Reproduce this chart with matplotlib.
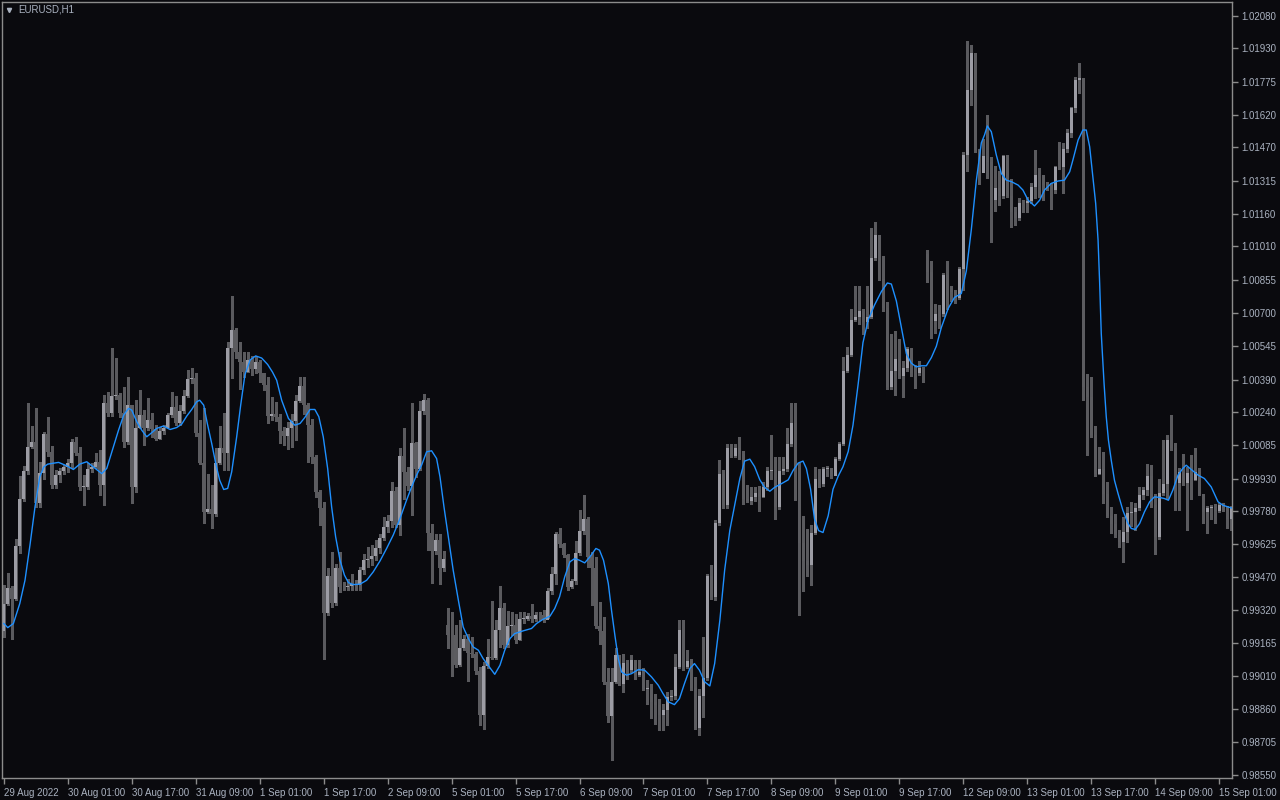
import numpy as np
import matplotlib.pyplot as plt
from matplotlib.lines import Line2D

# EURUSD H1 candles, 29 Aug 2022 09:00 onwards (bar index = hour step)
first_open = 0.99222
closes = [
    0.99349, 0.99419, 0.99372, 0.99616, 0.99834, 0.99964, 1.00077, 1.00098, 0.99817, 0.99958,
    1.00136, 1.00054, 0.99899, 0.99946, 0.99964, 0.99984, 1.00000, 1.00099, 1.00050, 0.99892,
    0.99892, 0.99974, 0.99984, 1.00006, 0.99902, 1.00282, 1.00236, 1.00313, 1.00318, 1.00233,
    1.00101, 1.00271, 0.99892, 1.00167, 1.00223, 1.00163, 1.00201, 1.00158, 1.00115, 1.00152,
    1.00163, 1.00225, 1.00264, 1.00189, 1.00245, 1.00313, 1.00392, 1.00395, 1.00140, 1.00000,
    0.99775, 0.99789, 0.99766, 1.00003, 1.00073, 1.00047, 1.00538, 1.00620, 1.00519, 1.00473,
    1.00426, 1.00481, 1.00440, 1.00470, 1.00420, 1.00364, 1.00220, 1.00232, 1.00214, 1.00152,
    1.00127, 1.00163, 1.00198, 1.00291, 1.00359, 1.00271, 1.00178, 1.00028, 0.99868, 0.99791,
    0.99306, 0.99476, 0.99352, 0.99516, 0.99426, 0.99428, 0.99430, 0.99439, 0.99434, 0.99504,
    0.99550, 0.99555, 0.99569, 0.99606, 0.99653, 0.99705, 0.99733, 0.99873, 0.99713, 1.00034,
    0.99961, 0.99894, 1.00096, 0.99972, 1.00245, 1.00294, 0.99678, 0.99594, 0.99643, 0.99515,
    0.99558, 0.99202, 0.99202, 0.99062, 0.99140, 0.99182, 0.99120, 0.99113, 0.99036, 0.98833,
    0.99058, 0.99101, 0.99098, 0.99225, 0.99326, 0.99155, 0.99243, 0.99250, 0.99178, 0.99279,
    0.99279, 0.99290, 0.99275, 0.99295, 0.99295, 0.99271, 0.99406, 0.99488, 0.99671, 0.99625,
    0.99573, 0.99426, 0.99453, 0.99585, 0.99687, 0.99744, 0.99566, 0.99512, 0.99243, 0.99222,
    0.98985, 0.98825, 0.98985, 0.99109, 0.98974, 0.99073, 0.99039, 0.99085, 0.99016, 0.99031,
    0.98954, 0.98954, 0.98892, 0.98876, 0.98830, 0.98853, 0.98915, 0.98918, 0.99055, 0.99225,
    0.99055, 0.99082, 0.98958, 0.98772, 0.98918, 0.99005, 0.99476, 0.99380, 0.99724, 0.99953,
    0.99806, 1.00074, 1.00034, 1.00070, 1.00046, 0.99836, 0.99827, 0.99845, 0.99862, 0.99845,
    0.99889, 0.99964, 0.99971, 0.99796, 0.99967, 0.99976, 1.00090, 1.00186, 0.99981, 0.99631,
    0.99547, 0.99526, 0.99675, 0.99929, 0.99906, 0.99976, 0.99981, 0.99941, 1.00023, 1.00090,
    1.00431, 1.00506, 1.00667, 1.00681, 1.00711, 1.00659, 1.00681, 1.00956, 1.01061, 1.00856,
    1.00723, 1.00356, 1.00431, 1.00484, 1.00405, 1.00443, 1.00531, 1.00419, 1.00419, 1.00443,
    1.00443, 1.00891, 1.00664, 1.00694, 1.00694, 1.00877, 1.00807, 1.00799, 1.00769, 1.00904,
    1.01434, 1.01738, 1.01906, 1.01458, 1.01350, 1.01429, 1.01403, 1.01224, 1.01279, 1.01243,
    1.01429, 1.01243, 1.01170, 1.01139, 1.01209, 1.01212, 1.01221, 1.01283, 1.01341, 1.01339,
    1.01294, 1.01290, 1.01271, 1.01376, 1.01379, 1.01460, 1.01534, 1.01651, 1.01782, 1.01790,
    1.00356, 1.00310, 1.00132, 0.99950, 0.99972, 0.99860, 0.99755, 0.99718, 0.99667, 0.99636,
    0.99682, 0.99770, 0.99775, 0.99791, 0.99853, 0.99876, 0.99941, 0.99806, 0.99656, 0.99863,
    0.99904, 1.00108, 1.00070, 0.99910, 0.99961, 0.99907, 0.99956, 0.99922, 0.99961, 0.99860,
    0.99775, 0.99791, 0.99798, 0.99780, 0.99806, 0.99791, 0.99744, 0.99795,
]
highs = [
    0.99434, 0.99492, 0.99430, 0.99651, 0.99941, 0.99988, 1.00279, 1.00174, 1.00260, 1.00008,
    1.00147, 1.00217, 1.00081, 0.99969, 0.99980, 0.99992, 1.00023, 1.00112, 1.00124, 1.00077,
    0.99946, 1.00000, 1.00000, 1.00050, 1.00062, 1.00318, 1.00333, 1.00535, 1.00488, 1.00326,
    1.00356, 1.00400, 1.00271, 1.00294, 1.00341, 1.00248, 1.00302, 1.00233, 1.00178, 1.00170,
    1.00178, 1.00233, 1.00333, 1.00313, 1.00271, 1.00341, 1.00434, 1.00446, 1.00419, 1.00202,
    1.00256, 0.99953, 0.99899, 1.00070, 1.00174, 1.00233, 1.00566, 1.00778, 1.00628, 1.00566,
    1.00519, 1.00519, 1.00500, 1.00500, 1.00480, 1.00420, 1.00400, 1.00310, 1.00287, 1.00230,
    1.00170, 1.00194, 1.00232, 1.00318, 1.00400, 1.00400, 1.00279, 1.00209, 1.00039, 0.99876,
    0.99822, 0.99512, 0.99589, 0.99535, 0.99589, 0.99450, 0.99465, 0.99485, 0.99460, 0.99519,
    0.99578, 0.99612, 0.99620, 0.99643, 0.99674, 0.99752, 0.99760, 0.99915, 0.99891, 1.00070,
    1.00163, 0.99984, 1.00282, 1.00101, 1.00291, 1.00325, 1.00302, 0.99718, 0.99674, 0.99671,
    0.99594, 0.99330, 0.99310, 0.99248, 0.99274, 0.99202, 0.99209, 0.99194, 0.99124, 0.99054,
    0.99078, 0.99186, 0.99361, 0.99271, 0.99430, 0.99352, 0.99315, 0.99310, 0.99302, 0.99310,
    0.99310, 0.99305, 0.99346, 0.99310, 0.99310, 0.99321, 0.99419, 0.99519, 0.99682, 0.99698,
    0.99630, 0.99581, 0.99461, 0.99640, 0.99786, 0.99853, 0.99752, 0.99590, 0.99566, 0.99357,
    0.99287, 0.99047, 0.99047, 0.99140, 0.99098, 0.99116, 0.99085, 0.99110, 0.99085, 0.99085,
    0.99047, 0.98993, 0.98977, 0.98930, 0.98907, 0.98884, 0.98938, 0.98946, 0.99116, 0.99271,
    0.99271, 0.99132, 0.99089, 0.99009, 0.98950, 0.99194, 0.99485, 0.99527, 0.99739, 1.00018,
    0.99969, 1.00090, 1.00090, 1.00090, 1.00124, 1.00060, 0.99901, 0.99889, 0.99889, 0.99897,
    0.99915, 0.99985, 1.00134, 1.00029, 1.00029, 1.00029, 1.00163, 1.00282, 1.00282, 1.00002,
    0.99754, 0.99696, 0.99714, 0.99985, 0.99976, 0.99985, 0.99990, 0.99960, 1.00029, 1.00099,
    1.00496, 1.00541, 1.00716, 1.00825, 1.00825, 1.00716, 1.00825, 1.01096, 1.01122, 1.01061,
    1.00965, 1.00751, 1.00601, 1.00615, 1.00580, 1.00475, 1.00541, 1.00536, 1.00460, 1.00478,
    1.00450, 1.00991, 1.00939, 1.00741, 1.00738, 1.00886, 1.00939, 1.00825, 1.00807, 1.00912,
    1.01446, 1.01966, 1.01945, 1.01906, 1.01464, 1.01507, 1.01620, 1.01426, 1.01382, 1.01361,
    1.01434, 1.01434, 1.01320, 1.01193, 1.01232, 1.01224, 1.01240, 1.01302, 1.01457, 1.01372,
    1.01341, 1.01310, 1.01302, 1.01382, 1.01496, 1.01488, 1.01553, 1.01659, 1.01798, 1.01860,
    1.01767, 1.00418, 1.00403, 1.00173, 1.00077, 1.00054, 0.99915, 0.99798, 0.99767, 0.99690,
    0.99752, 0.99798, 0.99822, 0.99814, 0.99891, 0.99891, 0.99997, 0.99992, 0.99860, 0.99930,
    1.00108, 1.00132, 1.00225, 1.00093, 0.99977, 1.00043, 0.99985, 1.00039, 1.00070, 0.99977,
    0.99860, 0.99802, 0.99806, 0.99810, 0.99817, 0.99814, 0.99802, 0.99802,
]
lows = [
    0.99194, 0.99341, 0.99186, 0.99364, 0.99585, 0.99826, 0.99953, 1.00070, 0.99799, 0.99799,
    0.99927, 1.00036, 0.99884, 0.99888, 0.99915, 0.99950, 0.99961, 0.99977, 1.00039, 0.99879,
    0.99806, 0.99882, 0.99961, 0.99977, 0.99853, 0.99806, 1.00220, 1.00222, 1.00298, 1.00217,
    1.00077, 1.00090, 0.99814, 0.99868, 1.00163, 1.00085, 1.00155, 1.00124, 1.00108, 1.00112,
    1.00136, 1.00170, 1.00217, 1.00178, 1.00178, 1.00236, 1.00307, 1.00375, 1.00130, 0.99997,
    0.99724, 0.99771, 0.99702, 0.99755, 0.99997, 0.99969, 0.99969, 1.00395, 1.00488, 1.00344,
    1.00403, 1.00426, 1.00410, 1.00420, 1.00380, 1.00341, 1.00186, 1.00201, 1.00198, 1.00093,
    1.00085, 1.00065, 1.00077, 1.00111, 1.00287, 1.00232, 1.00008, 1.00000, 0.99845, 0.99713,
    0.99093, 0.99295, 0.99333, 0.99341, 0.99403, 0.99411, 0.99411, 0.99414, 0.99411, 0.99414,
    0.99488, 0.99519, 0.99527, 0.99550, 0.99584, 0.99643, 0.99681, 0.99705, 0.99705, 0.99667,
    0.99837, 0.99876, 0.99760, 0.99938, 0.99969, 1.00232, 0.99600, 0.99445, 0.99581, 0.99439,
    0.99501, 0.99140, 0.99011, 0.99054, 0.99058, 0.99135, 0.98989, 0.99101, 0.99023, 0.98783,
    0.98768, 0.99051, 0.99090, 0.99093, 0.99147, 0.99140, 0.99147, 0.99201, 0.99166, 0.99178,
    0.99259, 0.99271, 0.99264, 0.99268, 0.99271, 0.99264, 0.99284, 0.99395, 0.99439, 0.99612,
    0.99566, 0.99411, 0.99419, 0.99442, 0.99574, 0.99674, 0.99519, 0.99341, 0.99233, 0.99163,
    0.98974, 0.98799, 0.98620, 0.98980, 0.98969, 0.98938, 0.99000, 0.99030, 0.99000, 0.99010,
    0.98946, 0.98884, 0.98819, 0.98791, 0.98760, 0.98760, 0.98783, 0.98900, 0.98907, 0.99047,
    0.99039, 0.99047, 0.98946, 0.98768, 0.98737, 0.98822, 0.98992, 0.99372, 0.99367, 0.99713,
    0.99795, 0.99795, 1.00028, 1.00030, 1.00020, 0.99810, 0.99819, 0.99813, 0.99827, 0.99778,
    0.99842, 0.99876, 0.99929, 0.99743, 0.99789, 0.99950, 0.99964, 1.00081, 0.99831, 0.99294,
    0.99407, 0.99477, 0.99434, 0.99670, 0.99889, 0.99897, 0.99941, 0.99932, 0.99950, 1.00016,
    1.00086, 1.00426, 1.00501, 1.00664, 1.00650, 1.00601, 1.00632, 1.00676, 1.00947, 1.00851,
    1.00711, 1.00344, 1.00344, 1.00317, 1.00396, 1.00309, 1.00431, 1.00408, 1.00352, 1.00410,
    1.00379, 1.00842, 1.00583, 1.00606, 1.00632, 1.00685, 1.00720, 1.00755, 1.00746, 1.00764,
    1.00807, 1.01359, 1.01665, 1.01446, 1.01297, 1.01359, 1.01325, 1.01031, 1.01175, 1.01201,
    1.01232, 1.01237, 1.01097, 1.01108, 1.01131, 1.01170, 1.01170, 1.01212, 1.01232, 1.01240,
    1.01224, 1.01271, 1.01181, 1.01259, 1.01370, 1.01255, 1.01449, 1.01519, 1.01635, 1.01724,
    1.00294, 1.00039, 1.00124, 0.99941, 0.99950, 0.99814, 0.99752, 0.99678, 0.99656, 0.99612,
    0.99543, 0.99636, 0.99709, 0.99690, 0.99783, 0.99837, 0.99853, 0.99798, 0.99581, 0.99651,
    0.99853, 0.99837, 1.00062, 0.99783, 0.99783, 0.99899, 0.99690, 0.99837, 0.99922, 0.99853,
    0.99721, 0.99678, 0.99744, 0.99721, 0.99775, 0.99780, 0.99698, 0.99690,
]
# opening gaps after the weekends
gap_opens = {111: 0.99248, 231: 1.00974}

# smoothed moving average, read along the bar axis
ma_x = [
    0, 1, 2.4, 4, 5.3, 6.6, 7.8, 9, 10, 11, 13.7, 15.75, 17.4, 19, 20.75, 22.4, 24.5, 25.75,
    27.4, 28.7, 30, 31.2, 32, 33.25, 34.5, 35.75, 37, 38.25, 39.9, 41.6, 43.25, 44.5, 45.75,
    47, 48.25, 49, 50, 50.9, 52, 53.1, 54, 55, 56, 57, 58.25, 59.25, 60.3, 61.6, 63, 64.5,
    66, 67.2, 68.25, 69.5, 71.2, 72.8, 74.1, 75.3, 76.6, 77.8, 78.8, 79.9, 81, 82, 83, 84.1,
    85.2, 86.2, 87.4, 89.1, 90.75, 92.4, 94.1, 95.75, 97.4, 99.1, 100.75, 102, 103.25, 104.5,
    105.75, 107, 108.25, 109.1, 110.1, 111.2, 112.4, 113.7, 114.9, 116.2, 117.4, 118.7, 119.9,
    121.6, 122.8, 124.1, 125.3, 126.6, 127.75, 129.9, 132, 133.25, 134.9, 136.6, 137.8, 139,
    140.3, 141.6, 142.8, 144, 145.3, 146.6, 148.1, 149, 150, 151.2, 152, 152.9, 153.7, 154.5,
    155.75, 157, 158.7, 160.3, 162, 163.7, 164.9, 166.2, 167.75, 169, 170.25, 171.6, 172.75,
    174, 175.3, 176.6, 177.8, 179.1, 180.3, 181.6, 182.8, 184.1, 185.3, 186.6, 187.8, 189.1,
    190.3, 191.6, 192.8, 194.5, 196.2, 197.4, 198.7, 199.9, 200.75, 201.8, 202.8, 203.8, 204.9,
    206.2, 207.4, 208.7, 209.9, 211.2, 212.4, 213.7, 214.9, 216.2, 217.8, 219.5, 221, 222,
    223.25, 224.5, 225.75, 227, 228.25, 229.5, 230.75, 232, 233.25, 234.5, 236.2, 237.8, 239.5,
    240.75, 242, 243.25, 244.5, 245.3, 246, 247, 248.25, 249.5, 250.75, 252, 253.7, 254.9,
    256.2, 257.8, 259.1, 260.3, 262, 263.7, 265.3, 266.6, 267.4, 268.7, 269.9, 270.75, 271.6,
    272.4, 273.1, 273.7, 274.1, 274.5, 275.2, 275.75, 276.3, 277, 277.8, 278.7, 279.9, 281.2,
    282, 283, 284.1, 285.3, 286.6, 287.8, 289.1, 290.3, 291.3, 292.4, 293.7, 294.9, 295.75,
    297, 298.7, 300.3, 302, 303.7, 304.9, 306.2, 307.5,
]
ma_y = [
    0.99256, 0.99237, 0.99256, 0.99349, 0.99457, 0.99628, 0.99798, 0.99938, 0.99984, 0.99997,
    1.00005, 0.99989, 0.99972, 0.99997, 1.00008, 0.99984, 0.99953, 0.99977, 1.00077, 1.00155,
    1.00225, 1.00256, 1.00248, 1.00194, 1.00155, 1.00124, 1.00143, 1.00163, 1.00174, 1.00158,
    1.00167, 1.00183, 1.00220, 1.00251, 1.00287, 1.00294, 1.00271, 1.00186, 1.00093, 0.99992,
    0.99922, 0.99879, 0.99884, 0.99961, 1.00124, 1.00271, 1.00411, 1.00481, 1.00500, 1.00490,
    1.00460, 1.00425, 1.00387, 1.00294, 1.00209, 1.00178, 1.00186, 1.00214, 1.00251, 1.00251,
    1.00217, 1.00124, 0.99977, 0.99798, 0.99659, 0.99550, 0.99481, 0.99446, 0.99437, 0.99439,
    0.99457, 0.99496, 0.99547, 0.99605, 0.99667, 0.99744, 0.99830, 0.99891, 0.99946, 0.99992,
    1.00054, 1.00059, 1.00023, 0.99938, 0.99798, 0.99659, 0.99504, 0.99364, 0.99240, 0.99186,
    0.99147, 0.99132, 0.99093, 0.99050, 0.99020, 0.99062, 0.99132, 0.99186, 0.99209, 0.99222,
    0.99233, 0.99256, 0.99276, 0.99290, 0.99326, 0.99380, 0.99473, 0.99543, 0.99558, 0.99550,
    0.99538, 0.99566, 0.99605, 0.99597, 0.99550, 0.99442, 0.99318, 0.99194, 0.99093, 0.99031,
    0.99016, 0.99023, 0.99042, 0.99039, 0.99008, 0.98969, 0.98930, 0.98892, 0.98879, 0.98907,
    0.98977, 0.99047, 0.99070, 0.99039, 0.98985, 0.98966, 0.99070, 0.99271, 0.99504, 0.99690,
    0.99805, 0.99930, 1.00011, 1.00020, 0.99985, 0.99924, 0.99889, 0.99871, 0.99889, 0.99906,
    0.99924, 0.99967, 1.00002, 1.00011, 0.99976, 0.99880, 0.99740, 0.99688, 0.99679, 0.99757,
    0.99880, 0.99941, 0.99985, 1.00055, 1.00178, 1.00370, 1.00562, 1.00667, 1.00737, 1.00799,
    1.00839, 1.00834, 1.00755, 1.00632, 1.00510, 1.00466, 1.00449, 1.00454, 1.00454, 1.00492,
    1.00545, 1.00632, 1.00720, 1.00772, 1.00790, 1.00895, 1.01087, 1.01315, 1.01490, 1.01527,
    1.01569, 1.01542, 1.01434, 1.01348, 1.01317, 1.01310, 1.01294, 1.01271, 1.01224, 1.01197,
    1.01224, 1.01271, 1.01302, 1.01313, 1.01317, 1.01356, 1.01410, 1.01503, 1.01550, 1.01550,
    1.01472, 1.01333, 1.01209, 1.01038, 1.00837, 1.00604, 1.00372, 1.00217, 1.00108, 1.00015,
    0.99922, 0.99860, 0.99783, 0.99721, 0.99698, 0.99693, 0.99721, 0.99775, 0.99822, 0.99845,
    0.99842, 0.99837, 0.99829, 0.99876, 0.99946, 0.99977, 0.99992, 0.99972, 0.99946, 0.99930,
    0.99891, 0.99822, 0.99806, 0.99798, 0.99791,
]

price_labels = [
    "1.02080", "1.01930", "1.01775", "1.01620", "1.01470", "1.01315", "1.01160", "1.01010",
    "1.00855", "1.00700", "1.00545", "1.00390", "1.00240", "1.00085", "0.99930", "0.99780",
    "0.99625", "0.99470", "0.99320", "0.99165", "0.99010", "0.98860", "0.98705", "0.98550",
]
time_labels = [
    "29 Aug 2022", "30 Aug 01:00", "30 Aug 17:00", "31 Aug 09:00", "1 Sep 01:00",
    "1 Sep 17:00", "2 Sep 09:00", "5 Sep 01:00", "5 Sep 17:00", "6 Sep 09:00",
    "7 Sep 01:00", "7 Sep 17:00", "8 Sep 09:00", "9 Sep 01:00", "9 Sep 17:00",
    "12 Sep 09:00", "13 Sep 01:00", "13 Sep 17:00", "14 Sep 09:00", "15 Sep 01:00",
]
bars_per_label = 16

# colours
bg = "#0a0a0e"
fg = "#aab2c0"
frame = "#8c8c8c"
up_col = "#9c9ca4"
dn_col = "#5c5c60"
wick_col = "#5a5a5e"
ma_col = "#1e90ff"

closes = np.array(closes)
highs = np.array(highs)
lows = np.array(lows)
opens = np.concatenate([[first_open], closes[:-1]])
for k, v in gap_opens.items():
    opens[k] = v
x = np.arange(len(closes))
up = closes >= opens

fig = plt.figure(figsize=(12.8, 8), dpi=100, facecolor=bg)
ax = fig.add_axes([2 / 1280, 22 / 800, 1230 / 1280, 776 / 800], facecolor=bg)

ax.vlines(x, lows, highs, color=wick_col, lw=1, antialiased=False, zorder=1)
body_lo = np.minimum(opens, closes)
body_h = np.maximum(np.abs(closes - opens), 0.00002)
ax.bar(x[up], body_h[up], bottom=body_lo[up], width=0.74, color=up_col,
       linewidth=0, antialiased=False, zorder=2)
ax.bar(x[~up], body_h[~up], bottom=body_lo[~up], width=0.74, color=dn_col,
       linewidth=0, antialiased=False, zorder=2)

ax.plot(ma_x, ma_y, color=ma_col, lw=1.0, zorder=3)

ax.set_xlim(-0.45, 307.2)
ax.set_ylim(0.98538, 1.02145)

ax.yaxis.tick_right()
ax.set_yticks([float(s) for s in price_labels])
ax.set_yticklabels(price_labels)
ax.set_xticks([bars_per_label * k for k in range(len(time_labels))])
ax.set_xticklabels(time_labels, ha="left")
ax.tick_params(axis="both", direction="out", length=4, width=1, color=frame,
               labelcolor=fg, labelsize=7)
ax.tick_params(axis="y", pad=3)
ax.tick_params(axis="x", pad=3)
for lab in ax.get_xticklabels() + ax.get_yticklabels():
    lab.set_fontfamily("Liberation Sans")
for sp in ax.spines.values():
    sp.set_color(frame)
    sp.set_linewidth(1)

# symbol / timeframe caption
fig.text(18 / 1280, 1 - 10 / 800, "EURUSD,H1", color=fg, fontsize=7,
         family="Liberation Sans", ha="left", va="center")
fig.add_artist(Line2D([9 / 1280], [1 - 10 / 800], marker="v", ms=3, color=fg,
                      transform=fig.transFigure))

fig.savefig("out.png", dpi=100, facecolor=bg)
